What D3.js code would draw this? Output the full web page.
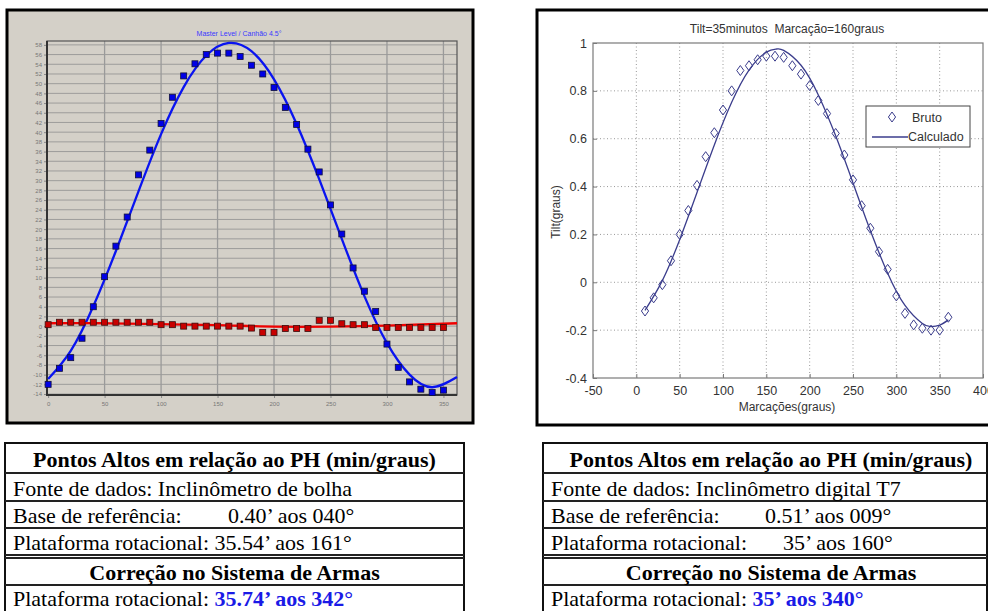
<!DOCTYPE html>
<html>
<head>
<meta charset="utf-8">
<script src="https://cdn.jsdelivr.net/npm/d3@7"></script>
<style>
  body { margin: 0; background: #fff; }
  svg { display: block; }
</style>
</head>
<body>
<div id="chart"></div>
<script>
// ---- left chart data (bubble inclinometer) ----
const angL = [0,10,20,30,40,50,60,70,80,90,100,110,120,130,140,150,160,170,180,190,200,210,220,230,240,250,260,270,280,290,300,310,320,330,340,350];
const platL = [-12,-8.7,-6.5,-2.5,4.0,10.2,16.5,22.5,31.2,36.3,41.8,47.2,51.6,54.1,56.0,56.3,56.3,55.6,53.8,52.0,49.2,45.1,41.6,36.5,31.8,25.0,19.0,12.0,7.2,3.0,-3.7,-8.5,-11.5,-13.0,-13.7,-13.2];
const baseL = [0.3,0.8,0.8,0.8,0.8,0.8,0.8,0.8,0.8,0.8,0.3,0.3,0.0,0.0,0.0,0.0,0.0,0.0,-0.4,-1.3,-1.3,-0.5,-0.5,-0.5,1.2,1.2,0.5,0.3,0.3,-0.3,-0.3,-0.3,-0.3,-0.3,-0.3,-0.3];
const fitAngL = [0,20,40,60,80,100,120,140,160,180,200,220,240,260,280,300,320,340,362];
const fitPlatL = [-10.9,-5.1,4.1,15.5,27.8,39.6,49.3,55.8,58.4,56.7,50.9,41.7,30.3,18.0,6.2,-3.5,-10.0,-12.6,-10.5];
const fitBaseAngL = [0,50,100,150,200,250,300,362];
const fitBaseL = [0.6,0.6,0.4,0.2,-0.1,-0.1,0.1,0.6];
const yTicksL = [-14,-12,-10,-8,-6,-4,-2,0,2,4,6,8,10,12,14,16,18,20,22,24,26,28,30,32,34,36,38,40,42,44,46,48,50,52,54,56,58];
const xTicksL = [0,50,100,150,200,250,300,350];

// ---- right chart data (digital inclinometer T7) ----
const angR = [10,20,30,40,50,60,70,80,90,100,110,120,130,140,150,160,170,180,190,200,210,220,230,240,250,260,270,280,290,300,310,320,330,340,350,360];
const tiltR = [-0.12,-0.065,-0.01,0.09,0.20,0.30,0.405,0.525,0.625,0.72,0.80,0.885,0.905,0.93,0.945,0.945,0.94,0.905,0.87,0.822,0.76,0.705,0.622,0.532,0.428,0.32,0.226,0.128,0.054,-0.057,-0.13,-0.178,-0.192,-0.2,-0.2,-0.146];
const fitAngR = [10,30,50,70,90,110,130,150,162,170,190,210,230,250,270,290,310,330,340,350,360];
const fitTiltR = [-0.117,0.007,0.178,0.375,0.574,0.752,0.887,0.962,0.975,0.969,0.907,0.783,0.612,0.415,0.216,0.038,-0.097,-0.172,-0.185,-0.179,-0.157];
const xTicksR = [-50,0,50,100,150,200,250,300,350,400];
const yTicksR = [-0.4,-0.2,0,0.2,0.4,0.6,0.8,1];

// ---- tables ----
const tableLeft = ["Fonte de dados: Inclinômetro de bolha", "Base de referência:", "0.40’ aos 040°", "Plataforma rotacional: 35.54’ aos 161°", "35.74’ aos 342°"];
const tableRight = ["Fonte de dados: Inclinômetro digital T7", "Base de referência:", "0.51’ aos 009°", "Plataforma rotacional:", "35’ aos 160°", "35’ aos 340°"];

const width = 988, height = 611;
const svg = d3.select("#chart").append("svg")
  .attr("width", width).attr("height", height)
  .style("font-family", "Liberation Sans, Arial, sans-serif");
svg.append("rect").attr("width", width).attr("height", height).attr("fill", "#fff");

// ================= LEFT CHART =================
const gL = svg.append("g");
gL.append("rect").attr("x", 7).attr("y", 10).attr("width", 466).attr("height", 413)
  .attr("fill", "#d4d0c8").attr("stroke", "#000").attr("stroke-width", 3);

const xL = d3.scaleLinear().domain([-1, 362]).range([47, 457]);
const yL = d3.scaleLinear().domain([-14.2, 58.8]).range([395, 41]);

// grid
gL.append("g").selectAll("line").data(yTicksL).join("line")
  .attr("x1", 47).attr("x2", 457)
  .attr("y1", d => yL(d)).attr("y2", d => yL(d))
  .attr("stroke", "#8f8f8f").attr("stroke-width", 0.8);
gL.append("g").selectAll("line").data(xTicksL.slice(1)).join("line")
  .attr("x1", d => xL(d)).attr("x2", d => xL(d))
  .attr("y1", 41).attr("y2", 395)
  .attr("stroke", "#9a9a9a").attr("stroke-width", 1.3);

// frame of plot
gL.append("rect").attr("x", 47).attr("y", 41).attr("width", 410).attr("height", 354)
  .attr("fill", "none").attr("stroke", "#555").attr("stroke-width", 1.2);
gL.append("line").attr("x1", 47).attr("x2", 47).attr("y1", 41).attr("y2", 396)
  .attr("stroke", "#333").attr("stroke-width", 2);
gL.append("line").attr("x1", 46).attr("x2", 457).attr("y1", 395).attr("y2", 395)
  .attr("stroke", "#333").attr("stroke-width", 2);

// axes
const axYL = gL.append("g").attr("transform", "translate(46,0)")
  .call(d3.axisLeft(yL).tickValues(yTicksL).tickSize(2).tickPadding(2).tickFormat(d => String(d)));
const axXL = gL.append("g").attr("transform", "translate(0,396)")
  .call(d3.axisBottom(xL).tickValues(xTicksL).tickSize(2).tickPadding(4));
[axYL, axXL].forEach(a => {
  a.select(".domain").remove();
  a.selectAll("line").attr("stroke", "#888");
  a.selectAll("text").attr("fill", "#777").style("font-size", "6px");
});

gL.append("text").attr("x", 239).attr("y", 36).attr("text-anchor", "middle")
  .attr("fill", "#3a3aff").style("font-size", "7px")
  .text("Master Level / Canhão 4.5°");

// fitted lines
const lineFitL = d3.line().x(d => xL(d[0])).y(d => yL(d[1])).curve(d3.curveNatural);
gL.append("path").datum(fitAngL.map((a, i) => [a, fitPlatL[i]]))
  .attr("d", lineFitL).attr("fill", "none").attr("stroke", "#0a14f0").attr("stroke-width", 2.3);
gL.append("path").datum(fitBaseAngL.map((a, i) => [a, fitBaseL[i]]))
  .attr("d", lineFitL).attr("fill", "none").attr("stroke", "#f00000").attr("stroke-width", 2.3);

// markers
gL.append("g").selectAll("rect").data(angL.map((a, i) => [a, baseL[i]])).join("rect")
  .attr("x", d => xL(d[0]) - 3).attr("y", d => yL(d[1]) - 3)
  .attr("width", 6).attr("height", 6)
  .attr("fill", "#c80000").attr("stroke", "#3a1010").attr("stroke-width", 0.8);
gL.append("g").selectAll("rect").data(angL.map((a, i) => [a, platL[i]])).join("rect")
  .attr("x", d => xL(d[0]) - 3).attr("y", d => yL(d[1]) - 3)
  .attr("width", 6).attr("height", 6)
  .attr("fill", "#0000e6").attr("stroke", "#10103a").attr("stroke-width", 0.8);

// ================= RIGHT CHART =================
const gR = svg.append("g");
gR.append("rect").attr("x", 537).attr("y", 10).attr("width", 470).attr("height", 415)
  .attr("fill", "#fff").attr("stroke", "#000").attr("stroke-width", 3);

const xR = d3.scaleLinear().domain([-50, 400]).range([593, 983]);
const yR = d3.scaleLinear().domain([-0.4, 1]).range([378, 43]);

// dotted grid
gR.append("g").selectAll("line").data(xTicksR.slice(1, -1)).join("line")
  .attr("x1", d => xR(d)).attr("x2", d => xR(d)).attr("y1", 43).attr("y2", 378)
  .attr("stroke", "#999").attr("stroke-width", 1).attr("stroke-dasharray", "1,2.5");
gR.append("g").selectAll("line").data(yTicksR.slice(1, -1)).join("line")
  .attr("x1", 593).attr("x2", 983).attr("y1", d => yR(d)).attr("y2", d => yR(d))
  .attr("stroke", "#999").attr("stroke-width", 1).attr("stroke-dasharray", "1,2.5");

gR.append("rect").attr("x", 593).attr("y", 43).attr("width", 390).attr("height", 335)
  .attr("fill", "none").attr("stroke", "#7a7a7a").attr("stroke-width", 1.2);

const axXR = gR.append("g").attr("transform", "translate(0,378)")
  .call(d3.axisBottom(xR).tickValues(xTicksR).tickSize(-4).tickPadding(8).tickFormat(d => String(d)));
const axYR = gR.append("g").attr("transform", "translate(593,0)")
  .call(d3.axisLeft(yR).tickValues(yTicksR).tickSize(-4).tickPadding(6).tickFormat(d => String(d)));
[axXR, axYR].forEach(a => {
  a.select(".domain").remove();
  a.selectAll("line").attr("stroke", "#7a7a7a");
  a.selectAll("text").attr("fill", "#333").style("font-size", "12.5px");
});

gR.append("text").attr("x", 787).attr("y", 33).attr("text-anchor", "middle")
  .attr("fill", "#333").style("font-size", "12px").attr("xml:space", "preserve")
  .text("Tilt=35minutos  Marcação=160graus");
gR.append("text").attr("x", 787).attr("y", 411).attr("text-anchor", "middle")
  .attr("fill", "#333").style("font-size", "12px").text("Marcações(graus)");
gR.append("text").attr("transform", "translate(560,212) rotate(-90)").attr("text-anchor", "middle")
  .attr("fill", "#333").style("font-size", "12px").text("Tilt(graus)");

const navy = "#3b3d8c";
const lineFitR = d3.line().x(d => xR(d[0])).y(d => yR(d[1])).curve(d3.curveNatural);
gR.append("path").datum(fitAngR.map((a, i) => [a, fitTiltR[i]]))
  .attr("d", lineFitR).attr("fill", "none").attr("stroke", navy).attr("stroke-width", 1.3);

const diamond = "M0,-5L3.6,0L0,5L-3.6,0Z";
gR.append("g").selectAll("path").data(angR.map((a, i) => [a, tiltR[i]])).join("path")
  .attr("transform", d => `translate(${xR(d[0])},${yR(d[1])})`)
  .attr("d", diamond).attr("fill", "none").attr("stroke", navy).attr("stroke-width", 1);

// legend
const lg = gR.append("g");
lg.append("rect").attr("x", 866).attr("y", 106).attr("width", 104).attr("height", 41)
  .attr("fill", "#fff").attr("stroke", "#444").attr("stroke-width", 1);
lg.append("path").attr("transform", "translate(892,117)").attr("d", diamond)
  .attr("fill", "none").attr("stroke", navy).attr("stroke-width", 1);
lg.append("text").attr("x", 912).attr("y", 122).attr("fill", "#333").style("font-size", "12.5px").text("Bruto");
lg.append("line").attr("x1", 872).attr("x2", 908).attr("y1", 137).attr("y2", 137)
  .attr("stroke", navy).attr("stroke-width", 1.3);
lg.append("text").attr("x", 908).attr("y", 141).attr("fill", "#333").style("font-size", "12.5px").text("Calculado");

// ================= TABLES =================
function drawTable(x0, x1, cx, rows) {
  const g = svg.append("g").style("font-family", "Liberation Serif, Times New Roman, serif")
    .style("font-size", "22px").attr("fill", "#000");
  const ys = [443, 473, 501, 528, 555, 558, 585, 612];
  g.append("rect").attr("x", x0).attr("y", 443).attr("width", x1 - x0).attr("height", 175)
    .attr("fill", "#fff").attr("stroke", "#111").attr("stroke-width", 2);
  ys.slice(1, -1).forEach(y => {
    g.append("line").attr("x1", x0).attr("x2", x1).attr("y1", y).attr("y2", y)
      .attr("stroke", "#222").attr("stroke-width", 1.8);
  });
  g.append("text").attr("x", cx).attr("y", 467).attr("text-anchor", "middle")
    .attr("font-weight", "bold").text("Pontos Altos em relação ao PH (min/graus)");
  g.append("text").attr("x", cx).attr("y", 580).attr("text-anchor", "middle")
    .attr("font-weight", "bold").text("Correção no Sistema de Armas");
  rows(g);
}

drawTable(5, 464, 234.5, g => {
  g.append("text").attr("x", 13).attr("y", 496).text(tableLeft[0]);
  g.append("text").attr("x", 13).attr("y", 523).text(tableLeft[1]);
  g.append("text").attr("x", 228).attr("y", 523).text(tableLeft[2]);
  g.append("text").attr("x", 13).attr("y", 550).text(tableLeft[3]);
  const t = g.append("text").attr("x", 13).attr("y", 606);
  t.append("tspan").text("Plataforma rotacional: ");
  t.append("tspan").attr("font-weight", "bold").attr("fill", "#1a1ae6").text(tableLeft[4]);
});

drawTable(543, 987, 771, g => {
  g.append("text").attr("x", 551).attr("y", 496).text(tableRight[0]);
  g.append("text").attr("x", 551).attr("y", 523).text(tableRight[1]);
  g.append("text").attr("x", 765).attr("y", 523).text(tableRight[2]);
  g.append("text").attr("x", 551).attr("y", 550).text(tableRight[3]);
  g.append("text").attr("x", 783).attr("y", 550).text(tableRight[4]);
  const t = g.append("text").attr("x", 551).attr("y", 606);
  t.append("tspan").text("Plataforma rotacional: ");
  t.append("tspan").attr("font-weight", "bold").attr("fill", "#1a1ae6").text(tableRight[5]);
});
</script>
</body>
</html>
